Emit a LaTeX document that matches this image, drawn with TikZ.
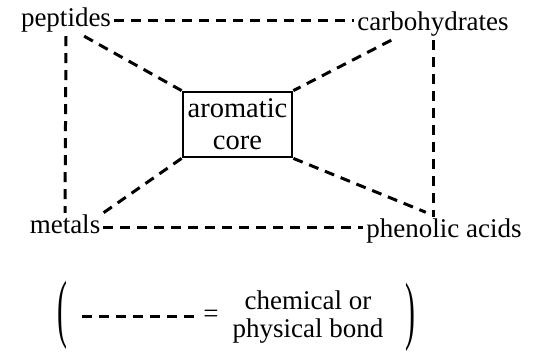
\documentclass[tikz,border=0pt]{standalone}
\usepackage{fontspec}
\setmainfont{Liberation Serif}
\begin{document}
\begin{tikzpicture}[x=1pt,y=1pt,
		bond/.style={line width=3pt,dash pattern=on 10pt off 7pt},
		label/.style={inner sep=3pt,text height=18pt,text depth=6pt,font=\fontsize{27}{30}\selectfont},
		corebox/.style={draw,line width=2.8pt,minimum width=109pt,minimum height=65pt,inner sep=1pt,align=center,font=\fontsize{28.5}{32}\selectfont},
		paren/.style={inner sep=0pt,font=\fontsize{27}{27}\selectfont}]
	\useasboundingbox (0,0) rectangle (538,353);
	\node[label] (peptides) at (66,332) {peptides};
	\node[label] (carbohydrates) at (433,328) {carbohydrates};
	\node[label] (metals) at (65,125) {metals};
	\node[label] (phenolic) at (444,121) {phenolic acids};
	\node[corebox] (core) at (237.5,228.5) {aromatic\\core};
	\draw[bond] (peptides.east) -- (peptides.east -| carbohydrates.west);
	\draw[bond] (peptides.south) -- (metals.north);
	\draw[bond] (carbohydrates.south) -- (carbohydrates.south |- phenolic.north);
	\draw[bond] (metals.east) -- (metals.east -| phenolic.west);
	\draw[bond] (peptides.-40) -- (core.north west);
	\draw[bond] (carbohydrates.200) -- (core.north east);
	\draw[bond] (core.south west) -- (metals.north east);
	\draw[bond,shorten >=12pt] (core.south east) -- (phenolic.115);
	\node[paren] (lp) at (62,38) {\scalebox{1.1}[2.8]{(}};
	\node[paren] (rp) at (410,36) {\scalebox{1.1}[2.8]{)}};
	\node[label] (eq) at (211,36) {=};
	\coordinate (L1) at (82,36);
	\draw[bond] (L1) -- (eq.west);
	\node[align=center,inner sep=0pt,font=\fontsize{27}{28}\selectfont] (meaning) at (308,36) {chemical or\\physical bond};
\end{tikzpicture}
\end{document}
